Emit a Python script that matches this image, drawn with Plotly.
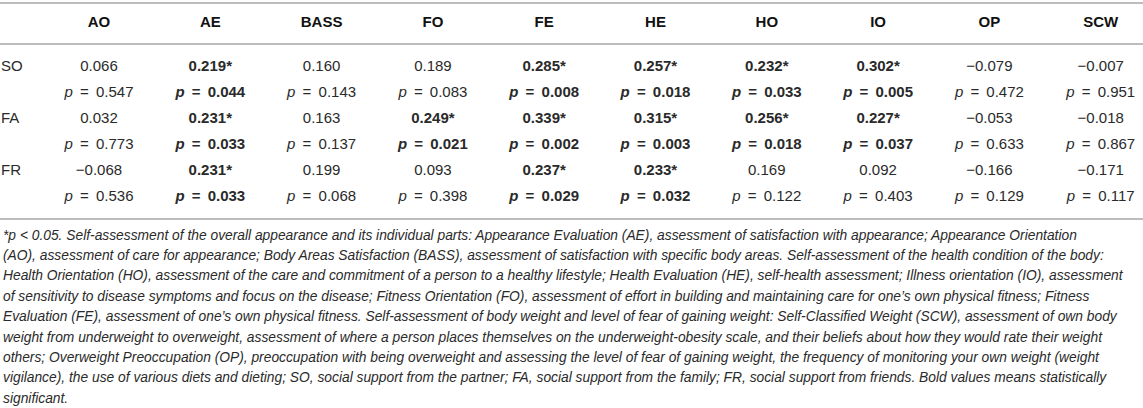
import plotly.graph_objects as go

W, H = 1143, 408

columns = ["AO", "AE", "BASS", "FO", "FE", "HE", "HO", "IO", "OP", "SCW"]
rows = ["SO", "FA", "FR"]

r_SO = [0.066, 0.219, 0.160, 0.189, 0.285, 0.257, 0.232, 0.302, -0.079, -0.007]
p_SO = [0.547, 0.044, 0.143, 0.083, 0.008, 0.018, 0.033, 0.005, 0.472, 0.951]
r_FA = [0.032, 0.231, 0.163, 0.249, 0.339, 0.315, 0.256, 0.227, -0.053, -0.018]
p_FA = [0.773, 0.033, 0.137, 0.021, 0.002, 0.003, 0.018, 0.037, 0.633, 0.867]
r_FR = [-0.068, 0.231, 0.199, 0.093, 0.237, 0.233, 0.169, 0.092, -0.166, -0.171]
p_FR = [0.536, 0.033, 0.068, 0.398, 0.029, 0.032, 0.122, 0.403, 0.129, 0.117]

footnote_lines = [
    "*p < 0.05. Self-assessment of the overall appearance and its individual parts: Appearance Evaluation (AE), assessment of satisfaction with appearance; Appearance Orientation",
    "(AO), assessment of care for appearance; Body Areas Satisfaction (BASS), assessment of satisfaction with specific body areas. Self-assessment of the health condition of the body:",
    "Health Orientation (HO), assessment of the care and commitment of a person to a healthy lifestyle; Health Evaluation (HE), self-health assessment; Illness orientation (IO), assessment",
    "of sensitivity to disease symptoms and focus on the disease; Fitness Orientation (FO), assessment of effort in building and maintaining care for one\u2019s own physical fitness; Fitness",
    "Evaluation (FE), assessment of one\u2019s own physical fitness. Self-assessment of body weight and level of fear of gaining weight: Self-Classified Weight (SCW), assessment of own body",
    "weight from underweight to overweight, assessment of where a person places themselves on the underweight-obesity scale, and their beliefs about how they would rate their weight",
    "others; Overweight Preoccupation (OP), preoccupation with being overweight and assessing the level of fear of gaining weight, the frequency of monitoring your own weight (weight",
    "vigilance), the use of various diets and dieting; SO, social support from the partner; FA, social support from the family; FR, social support from friends. Bold values means statistically",
    "significant.",
]

FONT = "Arial, Liberation Sans, Helvetica, sans-serif"
TXT = "#2a2a2a"
RULE = "#bdbdbd"

col_x0, col_dx = 99, 111.3
row_y0, row_dy = 67, 26
EQ = "\u2009 = \u2009"


def fmt(v):
    s = f"{abs(v):.3f}"
    return ("\u2212" + s) if v < 0 else s


fig = go.Figure()

xs = [col_x0 + i * col_dx for i in range(len(columns))]

# header
fig.add_trace(go.Scatter(
    x=xs, y=[23] * len(columns), cliponaxis=False,
    mode="text", text=[f"<b>{c}</b>" for c in columns],
    textfont=dict(family=FONT, size=15, color="#111111"), hoverinfo="skip"))

table = [(r_SO, p_SO), (r_FA, p_FA), (r_FR, p_FR)]
for k, (name, (rv, pv)) in enumerate(zip(rows, table)):
    yr = row_y0 + (2 * k) * row_dy
    yp = row_y0 + (2 * k + 1) * row_dy
    rtext, ptext = [], []
    for r, p in zip(rv, pv):
        if p < 0.05:
            rtext.append(f"<b>{fmt(r)}*</b>")
            ptext.append(f"<b><i>p</i>{EQ}{p:.3f}</b>")
        else:
            rtext.append(fmt(r))
            ptext.append(f"<i>p</i>{EQ}{p:.3f}")
    fig.add_trace(go.Scatter(x=xs, y=[yr] * len(xs), mode="text", text=rtext, cliponaxis=False,
                             textfont=dict(family=FONT, size=15, color=TXT), hoverinfo="skip"))
    fig.add_trace(go.Scatter(x=xs, y=[yp] * len(xs), mode="text", text=ptext, cliponaxis=False,
                             textfont=dict(family=FONT, size=15, color=TXT), hoverinfo="skip"))
    fig.add_trace(go.Scatter(x=[1], y=[yr], mode="text", text=[name], textposition="middle right",
                             cliponaxis=False,
                             textfont=dict(family=FONT, size=15, color=TXT), hoverinfo="skip"))

# rules
for yy in [3, 44, 219]:
    fig.add_shape(type="line", x0=0, x1=W, y0=yy, y1=yy, line=dict(color=RULE, width=2))

# footnote
for i, line in enumerate(footnote_lines):
    fig.add_annotation(x=1, y=235 + i * 20.4, xref="x", yref="y", text=f"<i>{line}</i>",
                       showarrow=False, xanchor="left", yanchor="middle",
                       font=dict(family=FONT, size=13.8, color=TXT))

fig.update_xaxes(range=[0, W], visible=False, fixedrange=True)
fig.update_yaxes(range=[H, 0], visible=False, fixedrange=True)
fig.update_layout(width=W, height=H, margin=dict(l=0, r=0, t=0, b=0),
                  showlegend=False, plot_bgcolor="white", paper_bgcolor="white")

# drop the default body margin so the figure sits at the page corner
fig.write_html("out.html", config={"displayModeBar": False},
               post_script="document.body.style.margin='0';")
